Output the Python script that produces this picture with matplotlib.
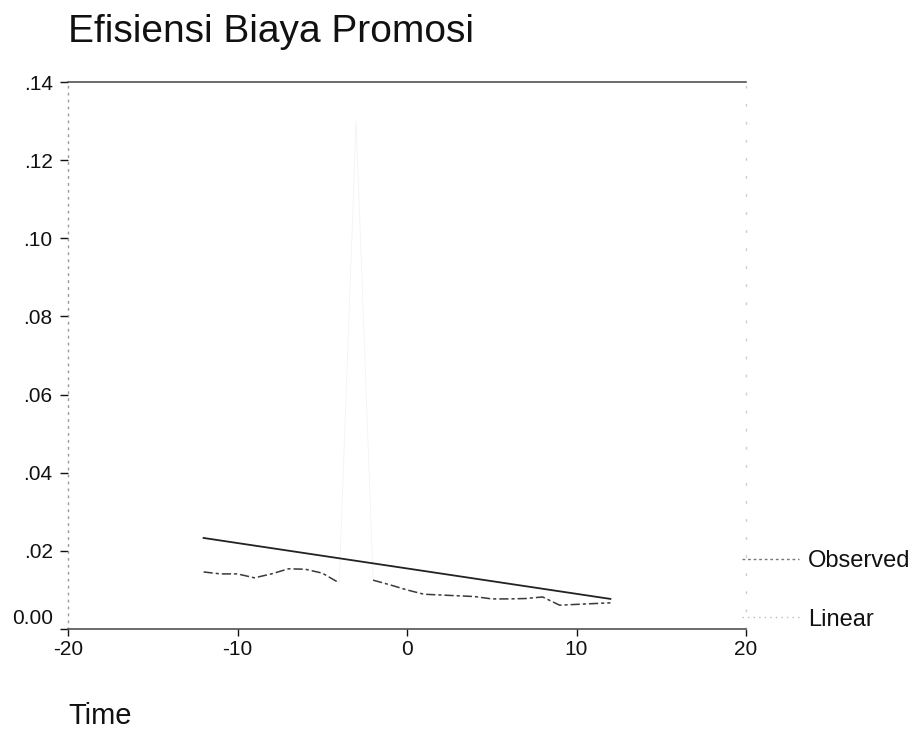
import numpy as np
import matplotlib
matplotlib.use("Agg")
import matplotlib.pyplot as plt
from matplotlib.transforms import ScaledTranslation
from matplotlib.lines import Line2D

# ---- data ----
time = [-12, -11, -10, -9, -8, -7, -6, -5, -4, -3, -2, -1, 0,
        1, 2, 3, 4, 5, 6, 7, 8, 9, 10, 11, 12]
observed = [0.0146, 0.0141, 0.0141, 0.0131, 0.0141, 0.0154, 0.0153, 0.0143,
            0.0118, 0.130, 0.0125, 0.0113, 0.0100, 0.0089, 0.0087, 0.0085,
            0.0083, 0.0077, 0.0077, 0.0078, 0.0082, 0.0061, 0.0063, 0.0065,
            0.0067]
linear_time = [-12, 12]
linear_values = [0.0233, 0.0077]

x_ticks = [-20, -10, 0, 10, 20]
x_tick_labels = ["-20", "-10", "0", "10", "20"]
y_ticks = [0.00, 0.02, 0.04, 0.06, 0.08, 0.10, 0.12, 0.14]
y_tick_labels = ["0.00", ".02", ".04", ".06", ".08", ".10", ".12", ".14"]

title = "Efisiensi Biaya Promosi"
x_label = "Time"
legend_labels = ["Observed", "Linear"]

plt.rcParams['font.family'] = ['Liberation Sans', 'DejaVu Sans']

W, H = 916, 735
fig = plt.figure(figsize=(W / 100, H / 100), dpi=100)
ax = fig.add_axes([68 / W, (H - 629) / H, (746 - 68) / W, (629 - 82) / H])

t = np.array(time, dtype=float)
obs = np.array(observed, dtype=float)

# the scan barely shows the spike of the observed series: very faint full path
ax.plot(t, obs, color="#f3f3f3", lw=0.6, zorder=2)
# clearly visible part of observed series
obs_vis = np.where(obs > 0.05, np.nan, obs)
ax.plot(t, obs_vis, color="#3a3a3a", lw=1.1, linestyle=(0, (6, 2, 2, 2)), zorder=3)
# linear fit
ax.plot(linear_time, linear_values, color="#222222", lw=1.3, zorder=3)

ax.set_xlim(-20, 20)
ax.set_ylim(0, 0.14)
ax.set_xticks(x_ticks)
ax.set_xticklabels(x_tick_labels)
ax.set_yticks(y_ticks)
ax.set_yticklabels(y_tick_labels)
ax.tick_params(axis='both', labelsize=15, colors="#111111", width=1.0)
ax.tick_params(axis='y', length=6, pad=5)
ax.tick_params(axis='x', length=5, pad=3)

# shift "0.00" up a little as in the reference
lab0 = ax.get_yticklabels()[0]
lab0.set_transform(lab0.get_transform() + ScaledTranslation(0, 12 / 100, fig.dpi_scale_trans))

for side in ['top', 'bottom']:
    ax.spines[side].set_color("#444444")
    ax.spines[side].set_linewidth(1.1)
ax.spines['left'].set_color("#999999")
ax.spines['left'].set_linestyle((0, (1, 4)))
ax.spines['left'].set_linewidth(1.0)
ax.spines['right'].set_color("#cccccc")
ax.spines['right'].set_linestyle((0, (1, 12)))
ax.spines['right'].set_linewidth(1.0)

fig.text(68 / W, 1 - 32 / H, title, fontsize=28, va='center', ha='left', color="#111111")
fig.text(68 / W, 1 - 716 / H, x_label, fontsize=21, va='center', ha='left', color="#111111")

handles = [Line2D([], [], color="#777777", lw=1.0, linestyle=(0, (2, 2))),
           Line2D([], [], color="#bbbbbb", lw=1.0, linestyle=(0, (1, 3)))]
fig.legend(handles, legend_labels, loc='upper left',
           bbox_to_anchor=(742 / W, 1 - 550 / H), frameon=False,
           fontsize=17, handlelength=2.4, handletextpad=0.4,
           labelspacing=1.55, borderpad=0, borderaxespad=0,
           labelcolor="#111111")

fig.savefig("out.png", dpi=100)
